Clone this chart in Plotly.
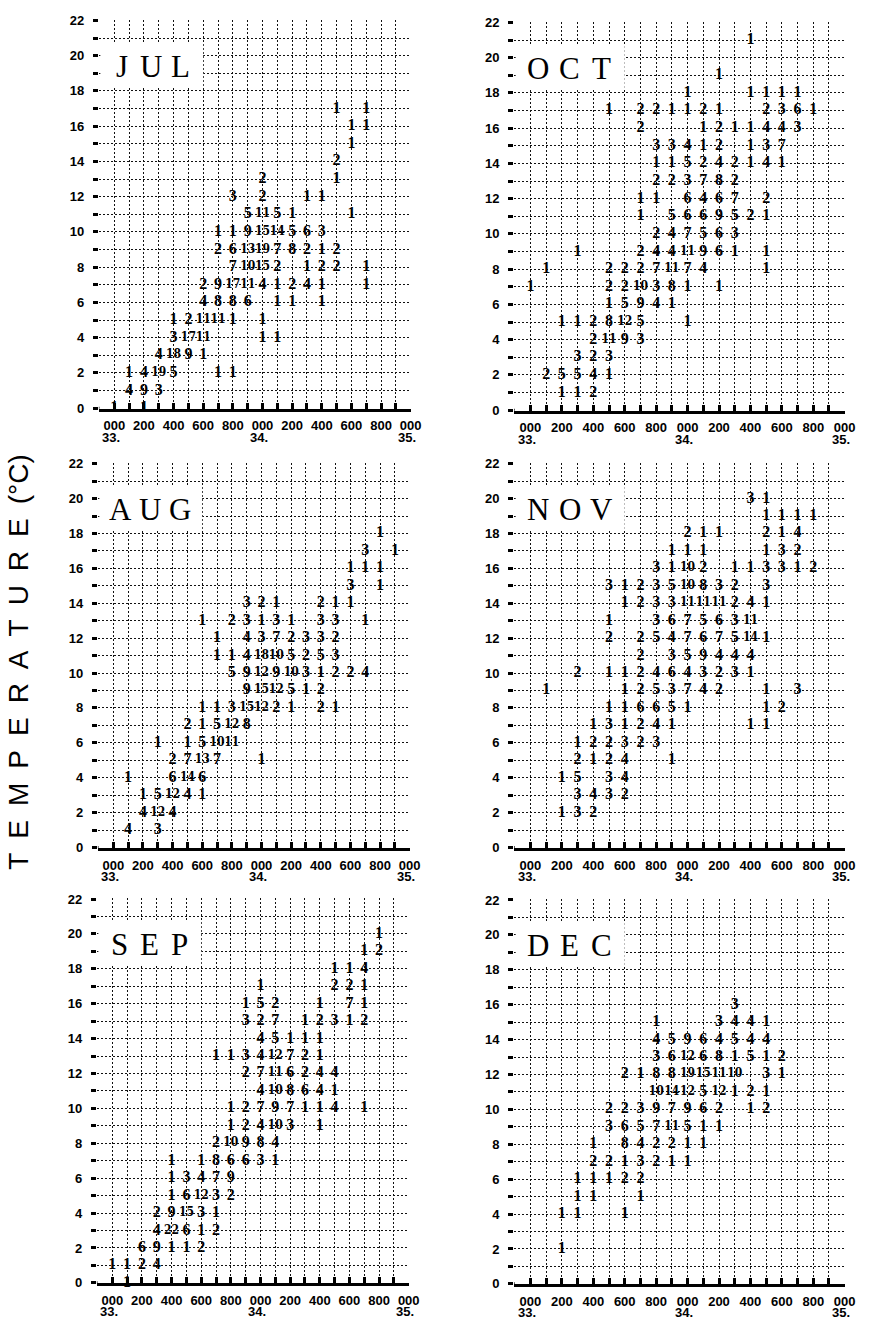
import plotly.graph_objects as go

W, H = 884, 1326

# ---------------- DATA: temperature (degC) -> list of (salinity, count) ----------------
JUL = {
    17: [(34.5, 1), (34.7, 1)],
    16: [(34.6, 1), (34.7, 1)],
    15: [(34.6, 1)],
    14: [(34.5, 2)],
    13: [(34.0, 2), (34.5, 1)],
    12: [(33.8, 3), (34.0, 2), (34.3, 1), (34.4, 1)],
    11: [(33.9, 5), (34.0, 11), (34.1, 5), (34.2, 1), (34.6, 1)],
    10: [(33.7, 1), (33.8, 1), (33.9, 9), (34.0, 15), (34.1, 14), (34.2, 5), (34.3, 6), (34.4, 3)],
    9: [(33.7, 2), (33.8, 6), (33.9, 13), (34.0, 19), (34.1, 7), (34.2, 8), (34.3, 2), (34.4, 1), (34.5, 2)],
    8: [(33.8, 7), (33.9, 10), (34.0, 15), (34.1, 2), (34.3, 1), (34.4, 2), (34.5, 2), (34.7, 1)],
    7: [(33.6, 2), (33.7, 9), (33.8, 17), (33.9, 11), (34.0, 4), (34.1, 1), (34.2, 2), (34.3, 4), (34.4, 1), (34.7, 1)],
    6: [(33.6, 4), (33.7, 8), (33.8, 8), (33.9, 6), (34.1, 1), (34.2, 1), (34.4, 1)],
    5: [(33.4, 1), (33.5, 2), (33.6, 11), (33.7, 11), (33.8, 1), (34.0, 1)],
    4: [(33.4, 3), (33.5, 17), (33.6, 11), (34.0, 1), (34.1, 1)],
    3: [(33.3, 4), (33.4, 18), (33.5, 9), (33.6, 1)],
    2: [(33.1, 1), (33.2, 4), (33.3, 19), (33.4, 5), (33.7, 1), (33.8, 1)],
    1: [(33.1, 4), (33.2, 9), (33.3, 3)],
    0: [(33.0, 1), (33.2, 1)],
}

OCT = {
    21: [(34.4, 1)],
    19: [(34.2, 1)],
    18: [(34.0, 1), (34.4, 1), (34.5, 1), (34.6, 1), (34.7, 1)],
    17: [(33.5, 1), (33.7, 2), (33.8, 2), (33.9, 1), (34.0, 1), (34.1, 2), (34.2, 1), (34.5, 2), (34.6, 3), (34.7, 6), (34.8, 1)],
    16: [(33.7, 2), (34.1, 1), (34.2, 2), (34.3, 1), (34.4, 1), (34.5, 4), (34.6, 4), (34.7, 3)],
    15: [(33.8, 3), (33.9, 3), (34.0, 4), (34.1, 1), (34.2, 2), (34.4, 1), (34.5, 3), (34.6, 7)],
    14: [(33.8, 1), (33.9, 1), (34.0, 5), (34.1, 2), (34.2, 4), (34.3, 2), (34.4, 1), (34.5, 4), (34.6, 1)],
    13: [(33.8, 2), (33.9, 2), (34.0, 3), (34.1, 7), (34.2, 8), (34.3, 2)],
    12: [(33.7, 1), (33.8, 1), (34.0, 6), (34.1, 4), (34.2, 6), (34.3, 7), (34.5, 2)],
    11: [(33.7, 1), (33.9, 5), (34.0, 6), (34.1, 6), (34.2, 9), (34.3, 5), (34.4, 2), (34.5, 1)],
    10: [(33.8, 2), (33.9, 4), (34.0, 7), (34.1, 5), (34.2, 6), (34.3, 3)],
    9: [(33.3, 1), (33.7, 2), (33.8, 4), (33.9, 4), (34.0, 11), (34.1, 9), (34.2, 6), (34.3, 1), (34.5, 1)],
    8: [(33.1, 1), (33.5, 2), (33.6, 2), (33.7, 2), (33.8, 7), (33.9, 11), (34.0, 7), (34.1, 4), (34.5, 1)],
    7: [(33.0, 1), (33.5, 2), (33.6, 2), (33.7, 10), (33.8, 3), (33.9, 8), (34.0, 1), (34.2, 1)],
    6: [(33.5, 1), (33.6, 5), (33.7, 9), (33.8, 4), (33.9, 1)],
    5: [(33.2, 1), (33.3, 1), (33.4, 2), (33.5, 8), (33.6, 12), (33.7, 5), (34.0, 1)],
    4: [(33.4, 2), (33.5, 11), (33.6, 9), (33.7, 3)],
    3: [(33.3, 3), (33.4, 2), (33.5, 3)],
    2: [(33.1, 2), (33.2, 5), (33.3, 5), (33.4, 4), (33.5, 1)],
    1: [(33.2, 1), (33.3, 1), (33.4, 2)],
}

AUG = {
    18: [(34.8, 1)],
    17: [(34.7, 3), (34.9, 1)],
    16: [(34.6, 1), (34.7, 1), (34.8, 1)],
    15: [(34.6, 3), (34.8, 1)],
    14: [(33.9, 3), (34.0, 2), (34.1, 1), (34.4, 2), (34.5, 1), (34.6, 1)],
    13: [(33.6, 1), (33.8, 2), (33.9, 3), (34.0, 1), (34.1, 3), (34.2, 1), (34.4, 3), (34.5, 3), (34.7, 1)],
    12: [(33.7, 1), (33.9, 4), (34.0, 3), (34.1, 7), (34.2, 2), (34.3, 3), (34.4, 3), (34.5, 2)],
    11: [(33.7, 1), (33.8, 1), (33.9, 4), (34.0, 18), (34.1, 10), (34.2, 5), (34.3, 2), (34.4, 5), (34.5, 3)],
    10: [(33.8, 5), (33.9, 9), (34.0, 12), (34.1, 9), (34.2, 10), (34.3, 3), (34.4, 1), (34.5, 2), (34.6, 2), (34.7, 4)],
    9: [(33.9, 9), (34.0, 15), (34.1, 12), (34.2, 5), (34.3, 1), (34.4, 2)],
    8: [(33.6, 1), (33.7, 1), (33.8, 3), (33.9, 15), (34.0, 12), (34.1, 2), (34.2, 1), (34.4, 2), (34.5, 1)],
    7: [(33.5, 2), (33.6, 1), (33.7, 5), (33.8, 12), (33.9, 8)],
    6: [(33.3, 1), (33.5, 1), (33.6, 5), (33.7, 10), (33.8, 11)],
    5: [(33.4, 2), (33.5, 7), (33.6, 13), (33.7, 7), (34.0, 1)],
    4: [(33.1, 1), (33.4, 6), (33.5, 14), (33.6, 6)],
    3: [(33.2, 1), (33.3, 5), (33.4, 12), (33.5, 4), (33.6, 1)],
    2: [(33.2, 4), (33.3, 12), (33.4, 4)],
    1: [(33.1, 4), (33.3, 3)],
}

NOV = {
    20: [(34.4, 3), (34.5, 1)],
    19: [(34.5, 1), (34.6, 1), (34.7, 1), (34.8, 1)],
    18: [(34.0, 2), (34.1, 1), (34.2, 1), (34.5, 2), (34.6, 1), (34.7, 4)],
    17: [(33.9, 1), (34.0, 1), (34.1, 1), (34.5, 1), (34.6, 3), (34.7, 2)],
    16: [(33.8, 3), (33.9, 1), (34.0, 10), (34.1, 2), (34.3, 1), (34.4, 1), (34.5, 3), (34.6, 3), (34.7, 1), (34.8, 2)],
    15: [(33.5, 3), (33.6, 1), (33.7, 2), (33.8, 3), (33.9, 5), (34.0, 10), (34.1, 8), (34.2, 3), (34.3, 2), (34.5, 3)],
    14: [(33.6, 1), (33.7, 2), (33.8, 3), (33.9, 3), (34.0, 11), (34.1, 11), (34.2, 11), (34.3, 2), (34.4, 4), (34.5, 1)],
    13: [(33.5, 1), (33.8, 3), (33.9, 6), (34.0, 7), (34.1, 5), (34.2, 6), (34.3, 3), (34.4, 11)],
    12: [(33.5, 2), (33.7, 2), (33.8, 5), (33.9, 4), (34.0, 7), (34.1, 6), (34.2, 7), (34.3, 5), (34.4, 14), (34.5, 1)],
    11: [(33.7, 2), (33.9, 3), (34.0, 5), (34.1, 9), (34.2, 4), (34.3, 4), (34.4, 4)],
    10: [(33.3, 2), (33.5, 1), (33.6, 1), (33.7, 2), (33.8, 4), (33.9, 6), (34.0, 4), (34.1, 3), (34.2, 2), (34.3, 3), (34.4, 1)],
    9: [(33.1, 1), (33.6, 1), (33.7, 2), (33.8, 5), (33.9, 3), (34.0, 7), (34.1, 4), (34.2, 2), (34.5, 1), (34.7, 3)],
    8: [(33.5, 1), (33.6, 1), (33.7, 6), (33.8, 6), (33.9, 5), (34.0, 1), (34.5, 1), (34.6, 2)],
    7: [(33.4, 1), (33.5, 3), (33.6, 1), (33.7, 2), (33.8, 4), (33.9, 1), (34.4, 1), (34.5, 1)],
    6: [(33.3, 1), (33.4, 2), (33.5, 2), (33.6, 3), (33.7, 2), (33.8, 3)],
    5: [(33.3, 2), (33.4, 1), (33.5, 2), (33.6, 4), (33.9, 1)],
    4: [(33.2, 1), (33.3, 5), (33.5, 3), (33.6, 4)],
    3: [(33.3, 3), (33.4, 4), (33.5, 3), (33.6, 2)],
    2: [(33.2, 1), (33.3, 3), (33.4, 2)],
}

SEP = {
    20: [(34.8, 1)],
    19: [(34.7, 1), (34.8, 2)],
    18: [(34.5, 1), (34.6, 1), (34.7, 4)],
    17: [(34.0, 1), (34.5, 2), (34.6, 2), (34.7, 1)],
    16: [(33.9, 1), (34.0, 5), (34.1, 2), (34.4, 1), (34.6, 7), (34.7, 1)],
    15: [(33.9, 3), (34.0, 2), (34.1, 7), (34.3, 1), (34.4, 2), (34.5, 3), (34.6, 1), (34.7, 2)],
    14: [(34.0, 4), (34.1, 5), (34.2, 1), (34.3, 1), (34.4, 1)],
    13: [(33.7, 1), (33.8, 1), (33.9, 3), (34.0, 4), (34.1, 12), (34.2, 7), (34.3, 2), (34.4, 1)],
    12: [(33.9, 2), (34.0, 7), (34.1, 11), (34.2, 6), (34.3, 2), (34.4, 4), (34.5, 4)],
    11: [(34.0, 4), (34.1, 10), (34.2, 8), (34.3, 6), (34.4, 4), (34.5, 1)],
    10: [(33.8, 1), (33.9, 2), (34.0, 7), (34.1, 9), (34.2, 7), (34.3, 1), (34.4, 1), (34.5, 4), (34.7, 1)],
    9: [(33.8, 1), (33.9, 2), (34.0, 4), (34.1, 10), (34.2, 3), (34.4, 1)],
    8: [(33.7, 2), (33.8, 10), (33.9, 9), (34.0, 8), (34.1, 4)],
    7: [(33.4, 1), (33.6, 1), (33.7, 8), (33.8, 6), (33.9, 6), (34.0, 3), (34.1, 1)],
    6: [(33.4, 1), (33.5, 3), (33.6, 4), (33.7, 7), (33.8, 9)],
    5: [(33.4, 1), (33.5, 6), (33.6, 12), (33.7, 3), (33.8, 2)],
    4: [(33.3, 2), (33.4, 9), (33.5, 15), (33.6, 3), (33.7, 1)],
    3: [(33.3, 4), (33.4, 22), (33.5, 6), (33.6, 1), (33.7, 2)],
    2: [(33.2, 6), (33.3, 9), (33.4, 1), (33.5, 1), (33.6, 2)],
    1: [(33.0, 1), (33.1, 1), (33.2, 2), (33.3, 4)],
    0: [(33.1, 1)],
}

DEC = {
    16: [(34.3, 3)],
    15: [(33.8, 1), (34.2, 3), (34.3, 4), (34.4, 4), (34.5, 1)],
    14: [(33.8, 4), (33.9, 5), (34.0, 9), (34.1, 6), (34.2, 4), (34.3, 5), (34.4, 4), (34.5, 4)],
    13: [(33.8, 3), (33.9, 6), (34.0, 12), (34.1, 6), (34.2, 8), (34.3, 1), (34.4, 5), (34.5, 1), (34.6, 2)],
    12: [(33.6, 2), (33.7, 1), (33.8, 8), (33.9, 8), (34.0, 19), (34.1, 15), (34.2, 11), (34.3, 10), (34.5, 3), (34.6, 1)],
    11: [(33.8, 10), (33.9, 14), (34.0, 12), (34.1, 5), (34.2, 12), (34.3, 1), (34.4, 2), (34.5, 1)],
    10: [(33.5, 2), (33.6, 2), (33.7, 3), (33.8, 9), (33.9, 7), (34.0, 9), (34.1, 6), (34.2, 2), (34.4, 1), (34.5, 2)],
    9: [(33.5, 3), (33.6, 6), (33.7, 5), (33.8, 7), (33.9, 11), (34.0, 5), (34.1, 1), (34.2, 1)],
    8: [(33.4, 1), (33.6, 8), (33.7, 4), (33.8, 2), (33.9, 2), (34.0, 1), (34.1, 1)],
    7: [(33.4, 2), (33.5, 2), (33.6, 1), (33.7, 3), (33.8, 2), (33.9, 1), (34.0, 1)],
    6: [(33.3, 1), (33.4, 1), (33.5, 1), (33.6, 2), (33.7, 2)],
    5: [(33.3, 1), (33.4, 1), (33.7, 1)],
    4: [(33.2, 1), (33.3, 1), (33.6, 1)],
    2: [(33.2, 1)],
}

MONTH_NAMES = ["JUL", "OCT", "AUG", "NOV", "SEP", "DEC"]
MONTH_DATA = [JUL, OCT, AUG, NOV, SEP, DEC]

# axis tick labels
X_LABEL_VALUES = [33.0, 33.2, 33.4, 33.6, 33.8, 34.0, 34.2, 34.4, 34.6, 34.8, 35.0]
X_LABEL_TEXT = ["000", "200", "400", "600", "800", "000", "200", "400", "600", "800", "000"]
X_MAJOR_VALUES = [33.0, 34.0, 35.0]
X_MAJOR_TEXT = ["33.", "34.", "35."]
Y_LABEL_VALUES = [0, 2, 4, 6, 8, 10, 12, 14, 16, 18, 20, 22]
Y_LABEL_TEXT = ["0", "2", "4", "6", "8", "10", "12", "14", "16", "18", "20", "22"]
S_MIN, S_MAX = 32.9, 35.0
T_MIN, T_MAX = 0, 22

# ---------------- LAYOUT (pixel boxes of each panel: left, right, top(T=22), bottom(T=0)) ----------------
PANEL_BOX = [
    (100, 416, 13, 406),
    (520, 855, 15, 408),
    (99, 415, 461, 850),
    (520, 855, 461, 850),
    (98, 414, 901, 1290),
    (520, 855, 902, 1291),
]

GRID_S = [round(S_MIN + 0.1 * i, 1) for i in range(22)]
GRID_T = list(range(T_MIN, T_MAX + 1))


def s_text(v):
    for val, txt in zip(X_LABEL_VALUES, X_LABEL_TEXT):
        if abs(val - v) < 1e-6:
            return txt
    return ""


def t_text(v):
    for val, txt in zip(Y_LABEL_VALUES, Y_LABEL_TEXT):
        if val == v:
            return txt
    return ""


fig = go.Figure()
layout = dict(
    width=W, height=H, margin=dict(l=0, r=0, t=0, b=0),
    paper_bgcolor="white", plot_bgcolor="white", showlegend=False,
)
annotations = []
shapes = []

GRID_COLOR = "#111111"
NUM_FONT = "Liberation Serif"
NUM_FONT_2 = "DejaVu Serif Condensed, Liberation Serif"
AX_FONT = "Liberation Sans, Arial"

for i, (name, data, box) in enumerate(zip(MONTH_NAMES, MONTH_DATA, PANEL_BOX), start=1):
    x0, x1, yt, yb = box
    xa = "xaxis" if i == 1 else f"xaxis{i}"
    ya = "yaxis" if i == 1 else f"yaxis{i}"
    xr = "x" if i == 1 else f"x{i}"
    yr = "y" if i == 1 else f"y{i}"

    layout[xa] = dict(
        domain=[x0 / W, x1 / W], anchor=yr,
        range=[S_MIN - 0.004, S_MAX + 0.004],
        tickmode="array", tickvals=GRID_S, ticktext=[s_text(v) for v in GRID_S],
        ticks="inside", ticklen=6, tickwidth=3, tickcolor="black",
        showline=True, linewidth=3, linecolor="black",
        showgrid=True, gridcolor=GRID_COLOR, gridwidth=1.4, griddash="2px,2px",
        zeroline=False, ticklabelstandoff=3,
        tickfont=dict(family=AX_FONT, size=13, color="black", weight="bold"),
        fixedrange=True,
    )
    layout[ya] = dict(
        domain=[1 - yb / H, 1 - yt / H], anchor=xr,
        range=[T_MIN - 0.03, T_MAX + 0.03],
        tickmode="array", tickvals=GRID_T, ticktext=[t_text(v) for v in GRID_T],
        ticks="outside", ticklen=5, tickwidth=3, tickcolor="black",
        showline=False,
        showgrid=True, gridcolor=GRID_COLOR, gridwidth=1.4, griddash="2px,2px",
        zeroline=False, ticklabelstandoff=6,
        tickfont=dict(family="Liberation Sans, Arial", size=13, color="black", weight="bold"),
        fixedrange=True,
    )

    xs, ys, txt, sz, fam = [], [], [], [], []
    for T, row in data.items():
        for S, n in row:
            xs.append(S)
            ys.append(T)
            txt.append(str(n))
            sz.append(16 if n < 10 else 12)
            fam.append(NUM_FONT if n < 10 else NUM_FONT_2)
    fig.add_trace(go.Scatter(
        x=xs, y=ys, text=txt, mode="text", textposition="middle center",
        textfont=dict(family=fam, size=sz, color="black", weight="bold"),
        xaxis=xr, yaxis=yr, hoverinfo="skip", cliponaxis=False,
    ))

    # solid x-axis extension to the left of the frame
    shapes.append(dict(type="line", xref=xr, yref=yr, x0=S_MIN - 0.05, x1=S_MIN, y0=0, y1=0,
                       line=dict(color="black", width=3), layer="above"))
    # white box behind month name
    shapes.append(dict(type="rect", xref=xr, yref=yr, x0=S_MIN + 0.006, x1=33.6, y0=18.2, y1=20.7,
                       fillcolor="white", line=dict(width=0), layer="between"))
    for k, letter in enumerate(name):
        annotations.append(dict(
            xref=xr, yref=yr, x=33.05 + 0.2 * k, y=19.4, text=letter, showarrow=False,
            font=dict(family="Liberation Serif", size=31, color="black"),
            xanchor="center", yanchor="middle",
        ))
    # second line of salinity labels
    for v, t in zip(X_MAJOR_VALUES, X_MAJOR_TEXT):
        annotations.append(dict(
            xref=xr, yref=yr, x=v - 0.025, y=0, yshift=-29, text=t, showarrow=False,
            font=dict(family=AX_FONT, size=13, color="black", weight="bold"),
            xanchor="center", yanchor="middle",
        ))

# common y-axis title
SP = "\u2002"
annotations.append(dict(
    xref="paper", yref="paper", x=18 / W, y=1 - 662 / H,
    text=SP.join(list("TEMPERATURE")) + SP + "(°C)", textangle=-90, showarrow=False,
    font=dict(family="Liberation Sans, Arial", size=28, color="black"),
    xanchor="center", yanchor="middle",
))

layout["annotations"] = annotations
layout["shapes"] = shapes
fig.update_layout(**layout)
fig.write_html("out.html")
